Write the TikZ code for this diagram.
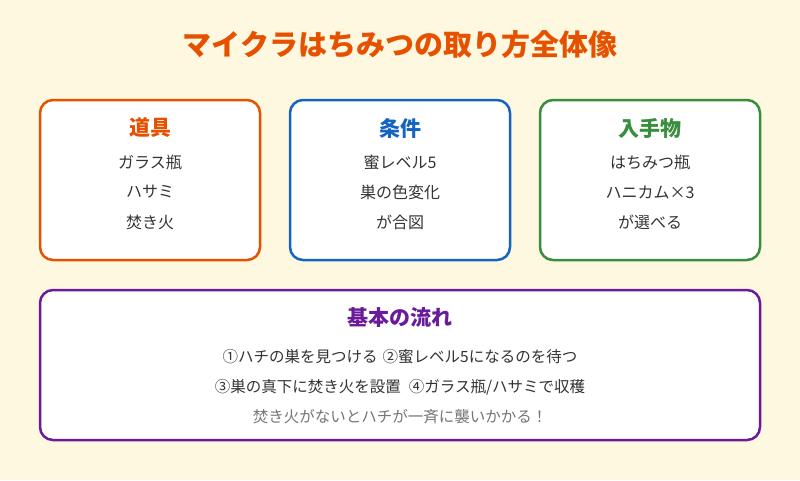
\documentclass[tikz,border=0pt]{standalone}
\usepackage{fontspec}
\setmainfont{Noto Sans CJK JP}
\usepackage{tikz}
\usetikzlibrary{positioning}
\usepackage{xcolor}
\definecolor{bgcream}{HTML}{FFF8E1}
\definecolor{toolorange}{HTML}{E65100}
\definecolor{condblue}{HTML}{1565C0}
\definecolor{getgreen}{HTML}{388E3C}
\definecolor{flowpurple}{HTML}{6A1B9A}
\definecolor{itemgray}{HTML}{333333}
\definecolor{notegray}{HTML}{757575}

\begin{document}
\begin{tikzpicture}[x=1pt, y=-1pt,
    card/.style={draw=#1, line width=2.5pt, fill=white, rounded corners=13pt},
    cardhead/.style={text=#1, font=\fontsize{21}{24}\selectfont\bfseries},
    item/.style={text=itemgray, font=\fontsize{16}{19}\selectfont},
    flowitem/.style={text=itemgray, font=\fontsize{15.5}{18}\selectfont}]
  \fill[bgcream] (0,0) rectangle (800,480);
  \useasboundingbox (0,0) rectangle (800,480);
  \node[text=toolorange, font=\fontsize{29}{33}\selectfont\bfseries] (title) at (400,45) {マイクラはちみつの取り方全体像};
  % three cards
  \draw[card=toolorange] (40,100) rectangle (260,260);
  \draw[card=condblue] (290,100) rectangle (510,260);
  \draw[card=getgreen] (540,100) rectangle (760,260);
  \node[cardhead=toolorange] (tools) at (150,128) {道具};
  \node[item] (tool1) at (150,162) {ガラス瓶};
  \node[item] (tool2) at (150,192) {ハサミ};
  \node[item] (tool3) at (150,222) {焚き火};
  \node[cardhead=condblue] (cond) at (400,128) {条件};
  \node[item] (cond1) at (400,162) {蜜レベル5};
  \node[item] (cond2) at (400,192) {巣の色変化};
  \node[item] (cond3) at (400,222) {が合図};
  \node[cardhead=getgreen] (gain) at (650,128) {入手物};
  \node[item] (gain1) at (650,162) {はちみつ瓶};
  \node[item] (gain2) at (650,192) {ハニカム×3};
  \node[item] (gain3) at (650,222) {が選べる};
  % flow card
  \draw[card=flowpurple] (40,290) rectangle (760,440);
  \node[cardhead=flowpurple] (flow) at (400,318) {基本の流れ};
  \node[flowitem] (step12) at (400,357) {①ハチの巣を見つける\hspace{5pt}②蜜レベル5になるのを待つ};
  \node[flowitem] (step34) at (400,387) {③巣の真下に焚き火を設置\hspace{8pt}④ガラス瓶/ハサミで収穫};
  \node[flowitem, text=notegray] (warn) at (400,417) {焚き火がないとハチが一斉に襲いかかる！};
\end{tikzpicture}
\end{document}
